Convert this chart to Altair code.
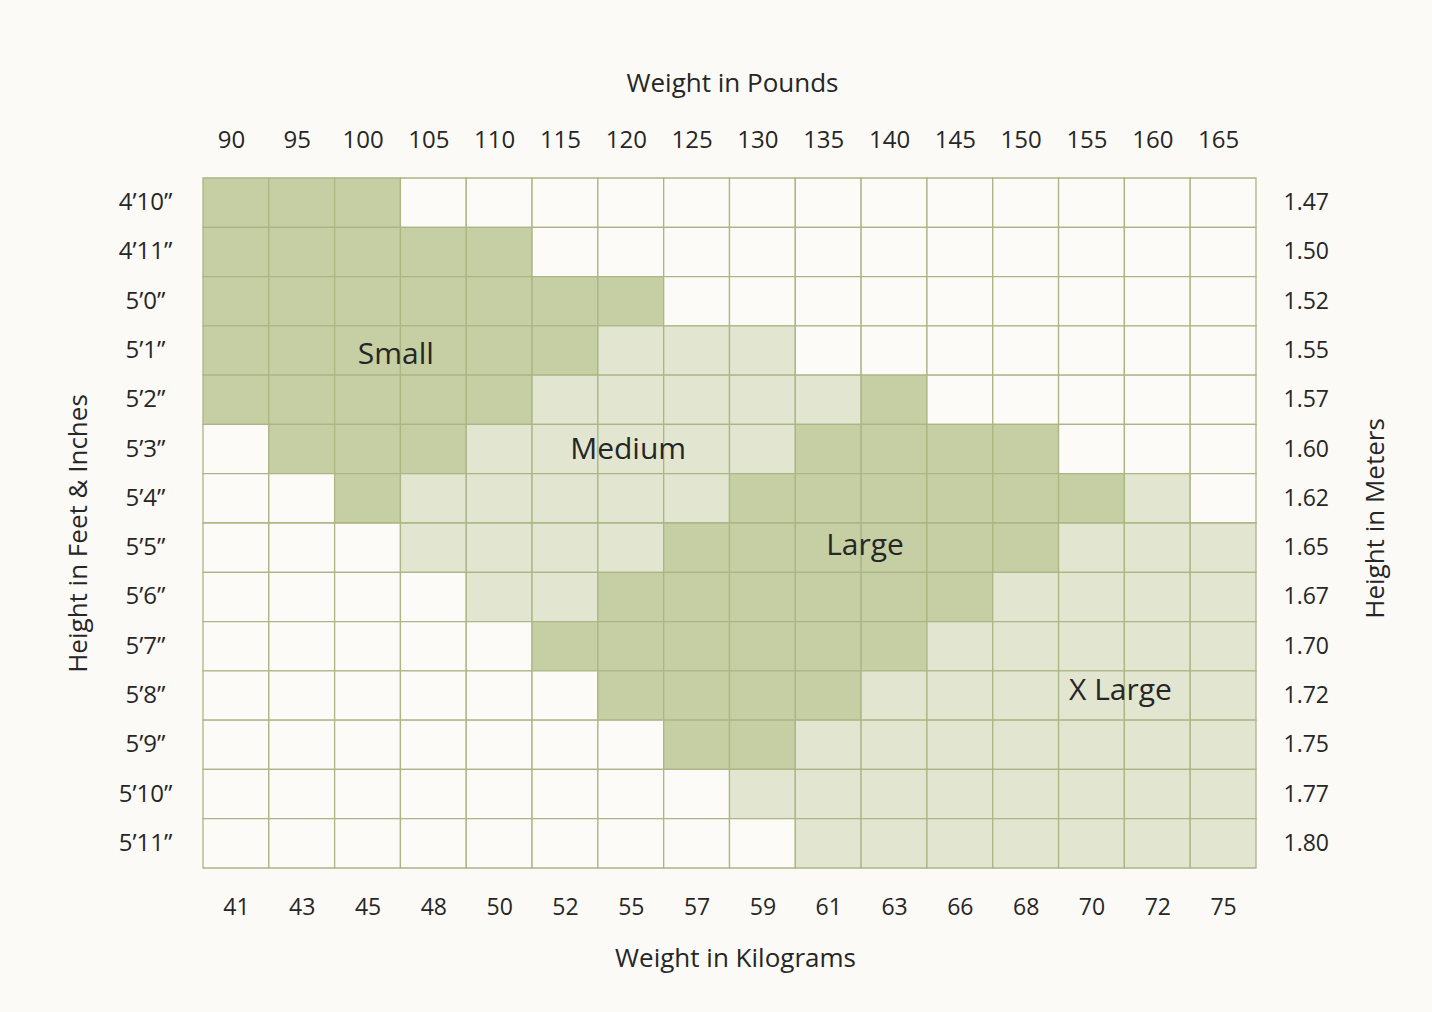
import json
import altair as alt
import pandas as pd

# ---- data ----
pounds = [90, 95, 100, 105, 110, 115, 120, 125, 130, 135, 140, 145, 150, 155, 160, 165]
kilograms = [41, 43, 45, 48, 50, 52, 55, 57, 59, 61, 63, 66, 68, 70, 72, 75]
feet_inches = ["4’10”", "4’11”", "5’0”", "5’1”", "5’2”", "5’3”", "5’4”",
               "5’5”", "5’6”", "5’7”", "5’8”", "5’9”", "5’10”", "5’11”"]
meters = ["1.47", "1.50", "1.52", "1.55", "1.57", "1.60", "1.62",
          "1.65", "1.67", "1.70", "1.72", "1.75", "1.77", "1.80"]

# S = Small, M = Medium, L = Large, X = X Large, W = none (one string per height row)
size_grid = [
    "SSSWWWWWWWWWWWWW",
    "SSSSSWWWWWWWWWWW",
    "SSSSSSSWWWWWWWWW",
    "SSSSSSMMMWWWWWWW",
    "SSSSSMMMMMLWWWWW",
    "WSSSMMMMMLLLLWWW",
    "WWSMMMMMLLLLLLXW",
    "WWWMMMMLLLLLLXXX",
    "WWWWMMLLLLLLXXXX",
    "WWWWWLLLLLLXXXXX",
    "WWWWWWLLLLXXXXXX",
    "WWWWWWWLLXXXXXXX",
    "WWWWWWWWXXXXXXXX",
    "WWWWWWWWWXXXXXXX",
]
size_codes = ["S", "M", "L", "X", "W"]
size_colors = ["#c6cfa3", "#e2e6d1", "#c6cfa3", "#e2e6d1", "#fcfbf7"]

size_names = ["Small", "Medium", "Large", "X Large"]
name_col = [2.93, 6.46, 10.06, 13.94]
name_row = [3.59, 5.52, 7.46, 10.40]

# ---- tables ----
recs = []
for r, line in enumerate(size_grid):
    for c, code in enumerate(line):
        recs.append({"c0": c, "c1": c + 1, "r0": r, "r1": r + 1, "size": code})
cells = pd.DataFrame(recs)
names = pd.DataFrame({"name": size_names, "lx": name_col, "ly": name_row})


def label_expr(labels):
    return json.dumps([str(s) for s in labels]) + "[floor(datum.value)]"


x_centers = [i + 0.5 for i in range(len(pounds))]
y_centers = [i + 0.5 for i in range(len(feet_inches))]

FONT = "Open Sans"
TXT = "#262626"
GRID = "#acb584"
BG = "#fbfaf6"
W, H = 1053, 690

x_scale = alt.Scale(domain=[0, 16], nice=False, zero=False)
y_scale = alt.Scale(domain=[0, 14], reverse=True, nice=False, zero=False)

common = dict(grid=False, domain=False, ticks=False, tickSize=0,
              labelFont=FONT, labelColor=TXT, labelOverlap=False, labelFlush=False,
              titleFont=FONT, titleColor=TXT, titleFontSize=26, titleFontWeight="normal",
              titleAlign="center", titleBaseline="middle")

rect = alt.Chart(cells).mark_rect(stroke=GRID, strokeWidth=1.3).encode(
    x=alt.X("c0:Q", scale=x_scale,
            axis=alt.Axis(orient="top", values=x_centers, labelExpr=label_expr(pounds),
                          labelFontSize=24, labelPadding=38, labelBaseline="middle",
                          labelOffset=-5,
                          title="Weight in Pounds", titleX=529, titleY=-95, **common)),
    x2="c1",
    y=alt.Y("r0:Q", scale=y_scale,
            axis=alt.Axis(orient="left", values=y_centers, labelExpr=label_expr(feet_inches),
                          labelFontSize=24, labelPadding=58, labelAlign="center",
                          labelBaseline="middle",
                          title="Height in Feet & Inches", titleAngle=270,
                          titleX=-125, titleY=355, **common)),
    y2="r1",
    color=alt.Color("size:N", scale=alt.Scale(domain=size_codes, range=size_colors), legend=None),
)

text = alt.Chart(names).mark_text(font=FONT, fontSize=30, color=TXT).encode(
    x=alt.X("lx:Q", scale=x_scale,
            axis=alt.Axis(orient="bottom", values=x_centers, labelExpr=label_expr(kilograms),
                          labelFontSize=23, labelPadding=39, labelBaseline="middle",
                          title="Weight in Kilograms", titleX=532, titleY=90, **common)),
    y=alt.Y("ly:Q", scale=y_scale,
            axis=alt.Axis(orient="right", values=y_centers, labelExpr=label_expr(meters),
                          labelFontSize=23, labelPadding=27, labelAlign="left",
                          labelBaseline="middle",
                          title="Height in Meters", titleAngle=270,
                          titleX=119, titleY=340, **common)),
    text="name:N",
)

chart = alt.layer(rect, text).resolve_axis(x="independent", y="independent").properties(
    width=W, height=H,
    autosize=alt.AutoSizeParams(type="none"),
    padding={"left": 203, "top": 178, "right": 176, "bottom": 144},
    background=BG,
).configure_view(stroke=None)

chart.save("out.html", embed_options={"renderer": "svg", "actions": False})
